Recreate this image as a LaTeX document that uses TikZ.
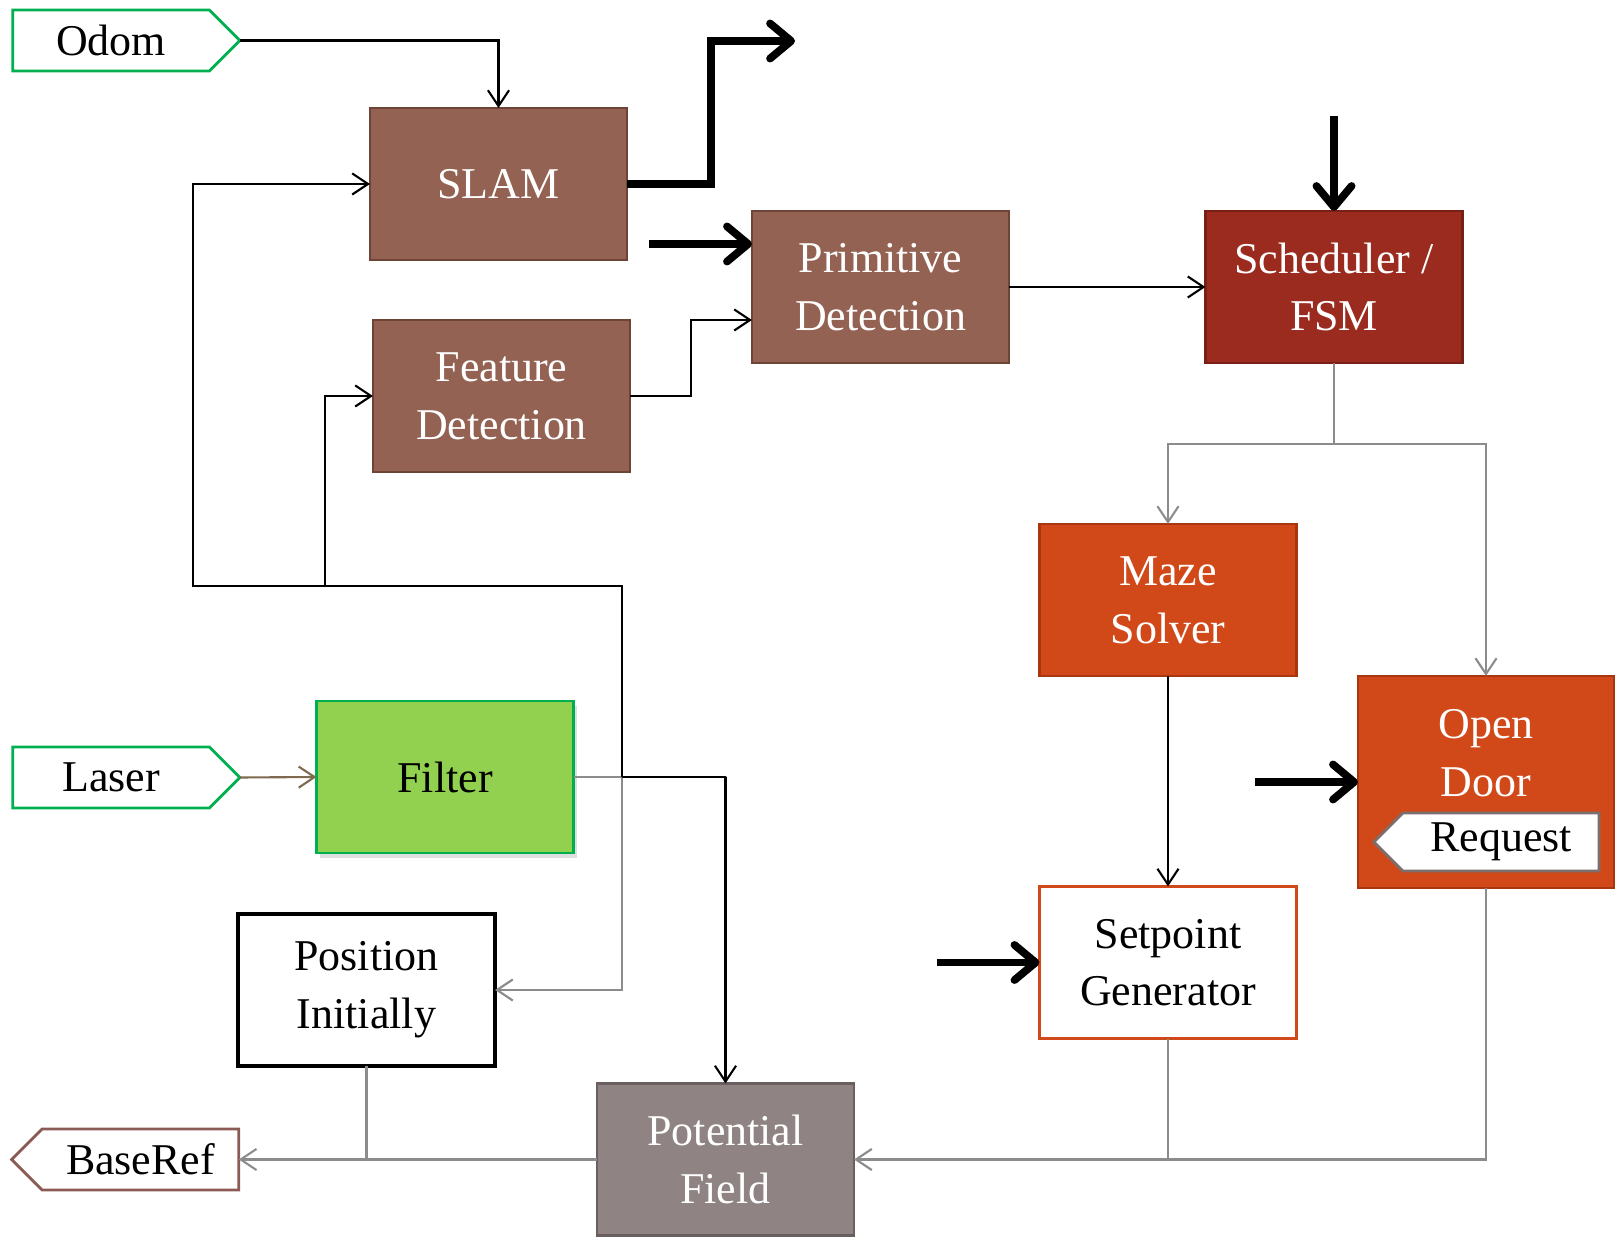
\documentclass[tikz,border=0pt]{standalone}
\usepackage{fontspec}
\setmainfont{Liberation Serif}
\usetikzlibrary{arrows.meta,calc,shapes.symbols,shadows}
\definecolor{boxbrown}{RGB}{148,98,82}
\definecolor{boxbrownline}{RGB}{110,68,54}
\definecolor{schedred}{RGB}{154,43,30}
\definecolor{schedredline}{RGB}{120,32,22}
\definecolor{mazeorange}{RGB}{209,73,25}
\definecolor{mazeorangeline}{RGB}{168,55,15}
\definecolor{pfgray}{RGB}{143,131,131}
\definecolor{pfgrayline}{RGB}{105,95,95}
\definecolor{filtergreen}{RGB}{146,208,80}
\definecolor{taggreen}{RGB}{0,176,80}
\definecolor{refbrown}{RGB}{140,90,85}
\definecolor{reqgray}{RGB}{125,110,110}
\definecolor{linegray}{RGB}{140,140,140}
\definecolor{laserline}{RGB}{127,105,80}
\newcommand{\boxfont}{\fontsize{12.5}{16.4}\selectfont}
\tikzset{
    block/.style = {rectangle, minimum width=2.57cm, minimum height=1.52cm, align=center, inner sep=2pt, outer sep=0pt, font=\boxfont, line width=0.8pt},
    brown-block/.style = {block, fill=boxbrown, draw=boxbrownline, text=white},
    io-tag/.style = {signal, signal pointer angle=90, minimum width=2.27cm, minimum height=0.61cm, inner sep=1pt, outer sep=0pt, font=\boxfont, fill=white, line width=0.8pt},
    thin-arrow/.style = {-{Straight Barb[length=4.5pt,width=6pt]}, line width=0.6pt},
    gray-arrow/.style = {thin-arrow, draw=linegray},
    fat-arrow/.style = {-{Straight Barb[length=6pt,width=10pt,round]}, line width=2.2pt},
}

\begin{document}
\begin{tikzpicture}[x=0.01cm, y=-0.01cm]
\useasboundingbox (0,0) rectangle (1615,1237);

% inputs and outputs
\node[io-tag, draw=taggreen, signal to=east] (odom) at (111,40.5) {Odom};
\node[io-tag, draw=taggreen, signal to=east] (laser) at (111,777.5) {Laser};
\node[io-tag, draw=refbrown, signal to=west] (baseref) at (140.5,1159.5) {BaseRef};

% blocks
\node[brown-block] (slam) at (498.5,184) {SLAM};
\node[brown-block] (prim) at (880.5,287) {Primitive\\Detection};
\node[brown-block] (feat) at (501.5,396) {Feature\\Detection};
\node[block, fill=schedred, draw=schedredline, text=white] (sched) at (1334,287) {Scheduler /\\FSM};
\node[block, fill=mazeorange, draw=mazeorangeline, text=white] (maze) at (1168,600) {Maze\\Solver};
\node[block, minimum width=2.56cm, minimum height=2.12cm, fill=mazeorange, draw=mazeorangeline, text=white] (open) at (1486,782) {Open\\Door\\~};
\node[io-tag, draw=reqgray, signal to=west, minimum width=2.25cm, minimum height=0.58cm] (request) at (1501,842) {Request};
\node[block, fill=white, draw=mazeorange] (setp) at (1168,962.5) {Setpoint\\Generator};
\node[block, fill=pfgray, draw=pfgrayline, text=white] (pf) at (725.5,1159.5) {Potential\\Field};
\node[block, fill=white, draw=black, line width=1pt] (posinit) at (366.5,990) {Position\\Initially};
\node[block, fill=filtergreen, draw=taggreen, drop shadow={opacity=0.25, shadow xshift=1pt, shadow yshift=-1.5pt}] (filter) at (445,777) {Filter};

% free ends of the thick arrows
\coordinate (map-out) at (795,41);
\coordinate (prim-in) at (649,244);
\coordinate (sched-in) at (1334,116);
\coordinate (open-in) at (1255,782);
\coordinate (setp-in) at (937,962.5);

% junctions
\coordinate (filt-split) at (622,777);
\coordinate (loop-a) at (193,586);
\coordinate (loop-b) at (325,586);
\coordinate (sched-split) at (1334,444);

\draw[thin-arrow] (odom.east) -| (slam.north);
\draw[fat-arrow] (slam.east) -- +(84,0) |- (map-out);
\draw[fat-arrow] (prim-in) -- (prim-in -| prim.west);
\draw[thin-arrow] (feat.east) -- +(61,0) |- ($(prim.west)+(0,33)$);
\draw[thin-arrow] (prim.east) -- (sched.west);
\draw[fat-arrow] (sched-in) -- (sched.north);
\draw[linegray, line width=0.6pt] (sched.south) -- (sched-split);
\draw[gray-arrow] (sched-split) -| (maze.north);
\draw[gray-arrow] (sched-split) -| (open.north);
\draw[thin-arrow] (maze.south) -- (setp.north);
\draw[fat-arrow] (open-in) -- (open.west);
\draw[fat-arrow] (setp-in) -- (setp.west);
\draw[gray-arrow] (open.south) |- (pf.east);
\draw[linegray, line width=0.6pt] (setp.south) -- (setp.south |- pf.east);
\draw[gray-arrow] (pf.west) -- (baseref.east);
\draw[linegray, line width=0.6pt] (posinit.south) -- (posinit.south |- baseref.east);
\draw[thin-arrow, draw=laserline] (laser.east) -- (filter.west);
\draw[linegray, line width=0.6pt] (filter.east) -- (filt-split);
\draw[gray-arrow] (filt-split) |- (posinit.east);
\draw[thin-arrow] (filt-split) -- +(104,0) -- (filt-split -| pf.north) -- (pf.north);
\draw[thin-arrow] (filt-split) |- (loop-a) |- (slam.west);
\draw[thin-arrow] (loop-b) |- (feat.west);
\end{tikzpicture}
\end{document}
